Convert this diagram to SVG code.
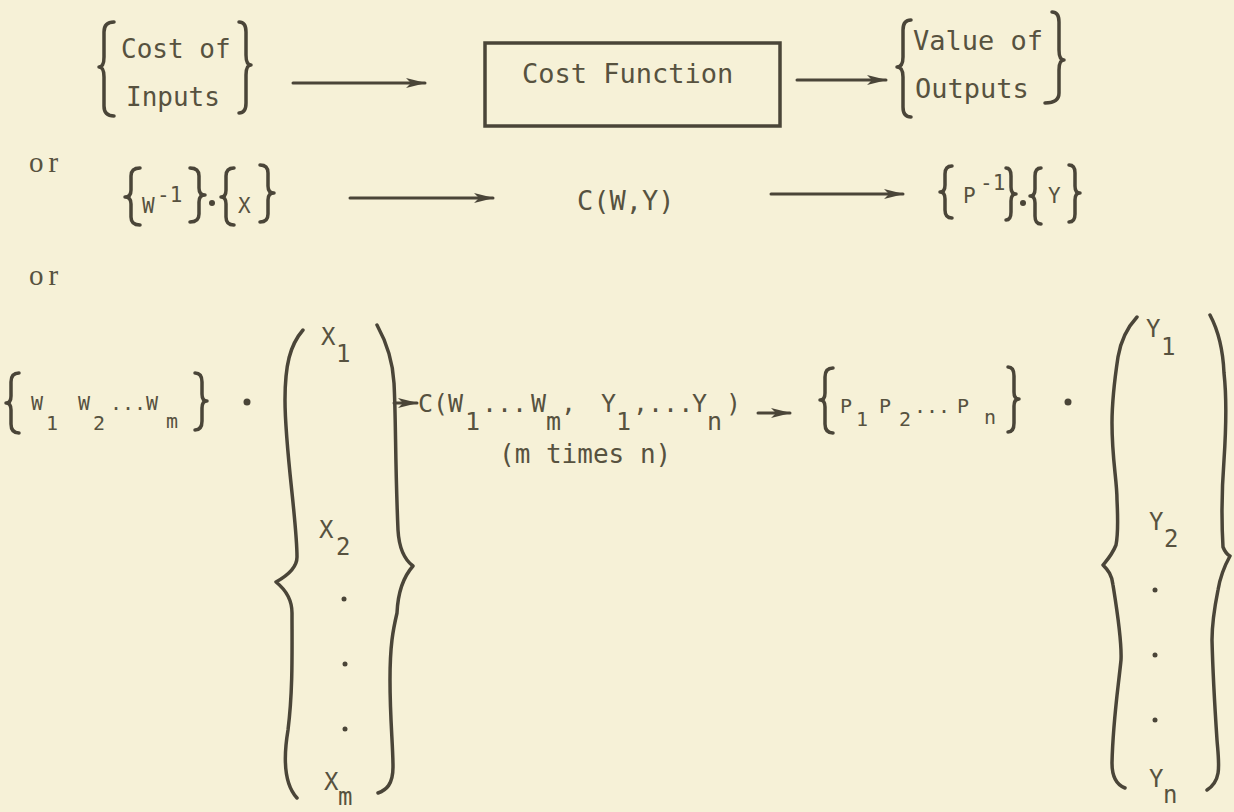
<svg xmlns="http://www.w3.org/2000/svg" width="1234" height="812" viewBox="0 0 1234 812">
<defs>
<style>
.t{font-family:"DejaVu Sans Mono","Liberation Mono",monospace;fill:#57523f}
.big{font-size:27px}
.mid{font-size:25px}
.sm{font-size:21px}
.mx{font-size:24px}
.w{font-size:20px}
.or{font-family:"Liberation Serif","DejaVu Serif",serif;font-size:29px;letter-spacing:5px;fill:#57523f}
.br{fill:none;stroke:#4a4538;stroke-width:3.5;stroke-linecap:round;stroke-linejoin:round}
.ln{fill:none;stroke:#4a4538;stroke-width:3;stroke-linecap:round}
.dot{fill:#4a4538}
</style>
<marker id="ah" markerUnits="userSpaceOnUse" markerWidth="20" markerHeight="12" viewBox="0 0 20 12" refX="19" refY="6" orient="auto">
<path d="M0,1 L20,6 L0,11 L5,6 z" fill="#4a4538"/>
</marker>
</defs>
<rect width="1234" height="812" fill="#f6f1d7"/>

<g id="node-cost-inputs">
<path class="br" d="M114,22 Q104,22 104,32 L104,57 Q104,67 99,67 Q104,67 104,77 L104,106 Q104,116 114,116"/>
<text class="t" x="121" y="58" style="font-size:26px">Cost of</text>
<text class="t" x="126" y="106" style="font-size:26px">Inputs</text>
<path class="br" d="M239,22 Q246,22 246,32 L246,55 Q246,65 251,65 Q246,65 246,75 L246,103 Q246,113 239,113"/>
</g>

<g id="node-cost-function">
<rect x="485" y="43" width="295" height="83" fill="none" stroke="#4a4538" stroke-width="3.5"/>
<text class="t big" x="522" y="83">Cost Function</text>
</g>

<g id="node-value-outputs">
<path class="br" d="M911,20 Q903,20 903,30 L903,57 Q903,67 897,67 Q903,67 903,77 L903,107 Q903,117 911,117"/>
<text class="t big" x="913" y="50">Value of</text>
<text class="t big" x="915" y="98">Outputs</text>
<path class="br" d="M1052,12 Q1059,12 1059,22 L1059,50 Q1059,60 1064,60 Q1059,60 1059,70 L1059,93 Q1059,103 1045,103"/>
</g>

<g id="label-or-1"><text class="or" x="29" y="172">or</text></g>

<g id="node-w-inverse-x">
<path class="br" d="M140,168 Q131,168 131,176 L131,190 Q131,197 125,197 Q131,197 131,204 L131,217 Q131,225 140,225"/>
<text class="t sm" x="142" y="213">W</text>
<text class="t sm" x="157" y="202">-1</text>
<path class="br" d="M190,168 Q199,168 199,176 L199,188 Q199,195 205,195 Q199,195 199,202 L199,214 Q199,222 190,222"/>
<circle class="dot" cx="212" cy="203" r="3"/>
<path class="br" d="M234,168 Q226,168 226,176 L226,190 Q226,197 221,197 Q226,197 226,204 L226,217 Q226,225 234,225"/>
<text class="t sm" x="238" y="213">X</text>
<path class="br" d="M260,165 Q268,165 268,173 L268,186 Q268,193 274,193 Q268,193 268,200 L268,214 Q268,222 260,222"/>
</g>

<g id="node-cwy">
<text class="t big" x="577" y="210">C(W,Y)</text>
</g>

<g id="node-p-inverse-y">
<path class="br" d="M952,166 Q945,166 945,174 L945,185 Q945,192 940,192 Q945,192 945,199 L945,210 Q945,218 952,218"/>
<text class="t sm" x="963" y="203">P</text>
<text class="t sm" x="980" y="190">-1</text>
<path class="br" d="M1006,168 Q1011,168 1011,176 L1011,187 Q1011,194 1016,194 Q1011,194 1011,201 L1011,212 Q1011,220 1006,220"/>
<circle class="dot" cx="1023" cy="203" r="3"/>
<path class="br" d="M1041,168 Q1035,168 1035,176 L1035,189 Q1035,196 1030,196 Q1035,196 1035,203 L1035,216 Q1035,224 1041,224"/>
<text class="t sm" x="1048" y="203">Y</text>
<path class="br" d="M1069,165 Q1075,165 1075,173 L1075,186 Q1075,193 1080,193 Q1075,193 1075,200 L1075,214 Q1075,222 1069,222"/>
</g>

<g id="label-or-2"><text class="or" x="29" y="285">or</text></g>

<g id="node-w-vector">
<path class="br" d="M19,373 Q11,373 11,382 L11,396 Q11,403 6,403 Q11,403 11,410 L11,424 Q11,433 19,433"/>
<text class="t w" x="31" y="410">W</text>
<text class="t w" x="46" y="430">1</text>
<text class="t w" x="78" y="410">W</text>
<text class="t w" x="93" y="430">2</text>
<text class="t w" x="110" y="410">...</text>
<text class="t w" x="146" y="410">W</text>
<text class="t w" x="166" y="428">m</text>
<path class="br" d="M195,373 Q202,373 202,382 L202,394 Q202,401 207,401 Q202,401 202,408 L202,421 Q202,430 195,430"/>
<circle class="dot" cx="247" cy="402" r="3.5"/>
</g>

<g id="node-x-vector">
<path class="br" d="M303,330 C290,345 285,365 285,400 C285,450 297,520 297,557 C297,568 285,577 276,582 C286,590 292,600 292,613 C292,650 293,690 288,730 C283,760 285,785 297,798"/>
<path class="br" d="M377,325 C388,345 393,365 394,383 C396,420 395,460 398,530 C399,548 405,560 413,566 C405,575 398,590 397,613 C393,630 390,645 390,680 C390,720 393,745 393,767 C393,785 386,790 378,793"/>
<text class="t mx" x="321" y="345">X</text>
<text class="t mx" x="336" y="362">1</text>
<text class="t mx" x="319" y="538">X</text>
<text class="t mx" x="336" y="555">2</text>
<circle class="dot" cx="344" cy="599" r="2.5"/>
<circle class="dot" cx="345" cy="664" r="2.5"/>
<circle class="dot" cx="345" cy="729" r="2.5"/>
<text class="t mx" x="324" y="790">X</text>
<text class="t mx" x="338" y="805">m</text>
</g>

<g id="node-c-full">
<text class="t mid" x="418" y="412">C(W</text>
<text class="t mid" x="465" y="430">1</text>
<text class="t mid" x="482" y="412">...</text>
<text class="t mid" x="531" y="412">W</text>
<text class="t mid" x="546" y="430">m</text>
<text class="t mid" x="561" y="412">,</text>
<text class="t mid" x="601" y="412">Y</text>
<text class="t mid" x="616" y="430">1</text>
<text class="t mid" x="633" y="412">,...</text>
<text class="t mid" x="692" y="412">Y</text>
<text class="t mid" x="707" y="430">n</text>
<text class="t mid" x="726" y="412">)</text>
<text class="t" style="font-size:26px" x="499" y="463">(m times n)</text>
</g>

<g id="node-p-vector">
<path class="br" d="M833,368 Q825,368 825,377 L825,393 Q825,400 820,400 Q825,400 825,407 L825,424 Q825,433 833,433"/>
<text class="t w" x="840" y="413">P</text>
<text class="t w" x="856" y="426">1</text>
<text class="t w" x="879" y="413">P</text>
<text class="t w" x="899" y="426">2</text>
<text class="t w" x="914" y="413">...</text>
<text class="t w" x="957" y="413">P</text>
<text class="t w" x="984" y="424">n</text>
<path class="br" d="M1008,367 Q1014,367 1014,376 L1014,392 Q1014,399 1019,399 Q1014,399 1014,406 L1014,423 Q1014,432 1008,432"/>
<circle class="dot" cx="1068" cy="402" r="3.5"/>
</g>

<g id="node-y-vector">
<path class="br" d="M1137,317 C1125,330 1120,345 1118,357 C1113,390 1112,410 1112,423 C1112,460 1117,480 1117,500 C1118,520 1118,535 1116,545 C1112,555 1107,560 1103,565 C1108,570 1112,575 1113,585 C1117,610 1122,640 1121,660 C1118,690 1113,720 1112,763 C1112,778 1117,785 1125,788"/>
<path class="br" d="M1210,315 C1218,330 1223,350 1224,373 C1227,400 1226,430 1224,460 C1221,500 1222,530 1223,547 C1225,552 1228,555 1230,556 C1225,565 1220,578 1218,590 C1214,610 1212,625 1212,640 C1213,680 1215,710 1217,740 C1219,765 1222,780 1207,790"/>
<text class="t mx" x="1146" y="337">Y</text>
<text class="t mx" x="1161" y="355">1</text>
<text class="t mx" x="1149" y="530">Y</text>
<text class="t mx" x="1164" y="547">2</text>
<circle class="dot" cx="1155" cy="590" r="2.5"/>
<circle class="dot" cx="1155" cy="655" r="2.5"/>
<circle class="dot" cx="1155" cy="720" r="2.5"/>
<text class="t mx" x="1149" y="787">Y</text>
<text class="t mx" x="1163" y="803">n</text>
</g>

<g id="connectors">
<line class="ln" x1="293" y1="83" x2="425" y2="83" marker-end="url(#ah)"/>
<line class="ln" x1="797" y1="80" x2="886" y2="80" marker-end="url(#ah)"/>
<line class="ln" x1="350" y1="198" x2="493" y2="198" marker-end="url(#ah)"/>
<line class="ln" x1="771" y1="194" x2="903" y2="194" marker-end="url(#ah)"/>
<line class="ln" x1="394" y1="403" x2="417" y2="403" marker-end="url(#ah)"/>
<line class="ln" x1="758" y1="413" x2="790" y2="413" marker-end="url(#ah)"/>
</g>
</svg>
